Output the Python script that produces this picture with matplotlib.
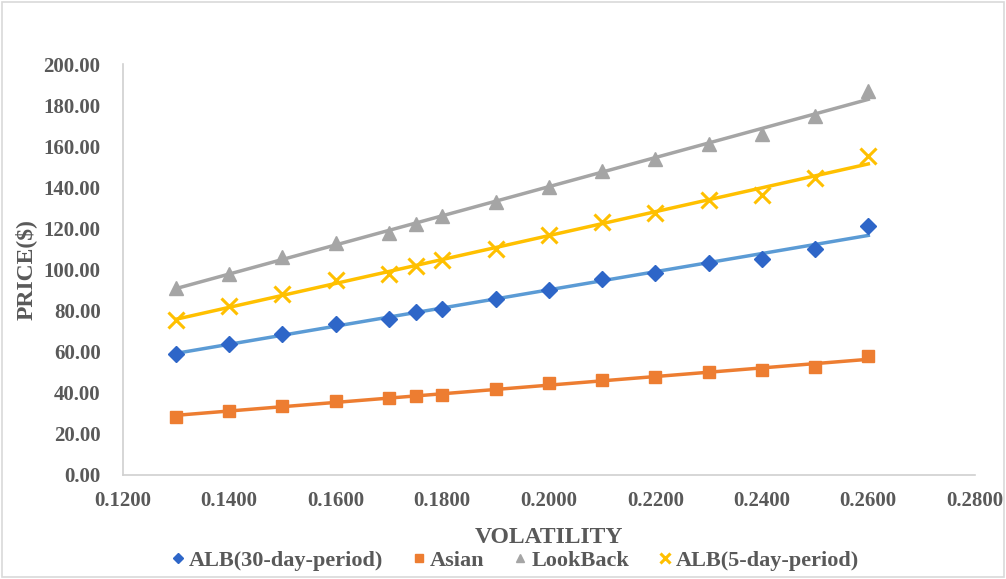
import numpy as np
import matplotlib
matplotlib.use('Agg')
import matplotlib.pyplot as plt
from matplotlib.patches import Rectangle

# Data
volatility = [0.13, 0.14, 0.15, 0.16, 0.17, 0.175, 0.18, 0.19, 0.20, 0.21, 0.22, 0.23, 0.24, 0.25, 0.26]
alb30 = [59.0, 63.5, 68.5, 73.5, 76.0, 79.5, 81.0, 85.5, 90.0, 95.5, 98.5, 103.0, 105.0, 110.0, 121.0]
asian = [28.0, 31.0, 33.5, 36.0, 37.5, 38.5, 39.0, 42.0, 44.5, 46.0, 47.5, 50.0, 51.0, 52.5, 58.0]
lookback = [91.0, 98.0, 106.0, 113.0, 118.0, 122.0, 126.0, 133.0, 140.0, 148.0, 154.0, 161.0, 166.0, 175.0, 187.0]
alb5 = [75.5, 82.0, 88.0, 95.0, 98.0, 101.5, 104.5, 110.0, 117.0, 123.0, 127.5, 134.0, 136.5, 144.5, 155.5]

series = [
    ('ALB(30-day-period)', alb30, 'D', '#2E66C8', '#5B9BD5', 8.5),
    ('Asian', asian, 's', '#ED7D31', '#ED7D31', 9),
    ('LookBack', lookback, '^', '#A5A5A5', '#A5A5A5', 10),
    ('ALB(5-day-period)', alb5, 'x', '#FFC000', '#FFC000', 11),
]

plt.rcParams['font.family'] = ['Liberation Serif', 'DejaVu Serif']
plt.rcParams['font.weight'] = 'bold'

fig = plt.figure(figsize=(10.06, 5.79), dpi=100)
ax = fig.add_axes([0.122, 0.180, 0.847, 0.709])

x = np.array(volatility)
for name, vals, mk, mcol, lcol, ms in series:
    y = np.array(vals)
    # linear trendline
    k, b = np.polyfit(x, y, 1)
    ax.plot(x, k * x + b, color=lcol, lw=2.5, zorder=2)
    if mk == 'x':
        ax.plot(x, y, linestyle='none', marker=mk, color=mcol, ms=ms, mew=2.2,
                label=name, zorder=3)
    else:
        ax.plot(x, y, linestyle='none', marker=mk, color=mcol, ms=ms,
                label=name, zorder=3)

ax.set_xlim(0.12, 0.28)
ax.set_ylim(0, 200)
ax.set_xticks(np.arange(0.12, 0.2801, 0.02))
ax.set_yticks(np.arange(0, 201, 20))
ax.xaxis.set_major_formatter(matplotlib.ticker.FormatStrFormatter('%.4f'))
ax.yaxis.set_major_formatter(matplotlib.ticker.FormatStrFormatter('%.2f'))
ax.tick_params(length=0, labelsize=15, colors='#595959')
ax.tick_params(axis='x', pad=12)
ax.tick_params(axis='y', pad=16)
for lab in ax.get_xticklabels() + ax.get_yticklabels():
    lab.set_fontweight('bold')

for s in ['top', 'right']:
    ax.spines[s].set_visible(False)
for s in ['left', 'bottom']:
    ax.spines[s].set_color('#D0D0D0')
    ax.spines[s].set_linewidth(1.2)

ax.set_xlabel('VOLATILITY', fontsize=17, fontweight='bold', color='#595959')
ax.xaxis.set_label_coords(0.5, -0.126)
ax.set_ylabel('PRICE($)', fontsize=17, fontweight='bold', color='#595959', labelpad=5)

leg = fig.legend(loc='lower center', bbox_to_anchor=(0.512, -0.02), ncol=4, frameon=False,
                 fontsize=16, handlelength=0.6, handletextpad=0.2, columnspacing=1.3,
                 markerscale=0.6)
for t in leg.get_texts():
    t.set_color('#595959')
    t.set_fontweight('bold')

# chart border
fig.patches.append(Rectangle((0.002, 0.003), 0.996, 0.994, transform=fig.transFigure,
                             fill=False, edgecolor='#D9D9D9', lw=1.2))

fig.savefig('out.png', dpi=100)
